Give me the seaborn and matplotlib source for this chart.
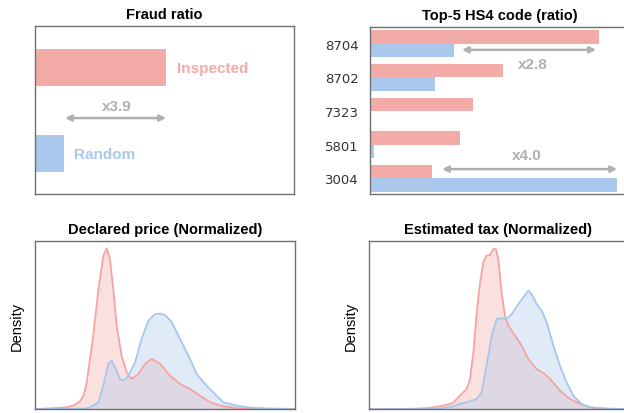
import pandas as pd
import matplotlib.pyplot as plt
import seaborn as sns

sns.set_theme(style="white")
plt.rcParams["font.family"] = ["Liberation Sans", "DejaVu Sans"]

RED = "#f3aba8"
BLUE = "#a9c8ec"
RED_LINE = "#f7a3a3"
BLUE_LINE = "#a6c6ee"
GRAY = "#b0b0b0"

# ---- data ----
groups = ["Inspected", "Random"]
fraud_ratio = [0.506, 0.112]

hs4_codes = ["8704", "8702", "7323", "5801", "3004"]
hs4_inspected = [0.884, 0.514, 0.398, 0.347, 0.239]
hs4_random = [0.324, 0.251, 0.004, 0.015, 0.954]

price_red_x = [0, 0.06, 0.12, 0.15, 0.173, 0.188, 0.199, 0.224, 0.244, 0.263, 0.276,
               0.288, 0.301, 0.314, 0.333, 0.353, 0.372, 0.397, 0.423, 0.449, 0.481,
               0.519, 0.558, 0.596, 0.635, 0.673, 0.724, 0.788, 0.89, 1.0]
price_red_y = [0, 0.004, 0.010, 0.022, 0.045, 0.085, 0.159, 0.436, 0.714, 0.913, 0.956,
               0.893, 0.714, 0.496, 0.317, 0.218, 0.179, 0.208, 0.268, 0.298, 0.270,
               0.198, 0.149, 0.119, 0.079, 0.040, 0.016, 0.004, 0.001, 0]
price_blue_x = [0, 0.19, 0.212, 0.244, 0.263, 0.282, 0.295, 0.308, 0.327, 0.340, 0.359,
                0.385, 0.410, 0.436, 0.462, 0.481, 0.5, 0.526, 0.558, 0.596, 0.622,
                0.660, 0.686, 0.724, 0.776, 0.827, 0.9, 1.0]
price_blue_y = [0, 0.002, 0.010, 0.040, 0.139, 0.268, 0.288, 0.248, 0.179, 0.169, 0.198,
                0.278, 0.417, 0.526, 0.565, 0.568, 0.56, 0.516, 0.417, 0.298, 0.208,
                0.139, 0.099, 0.040, 0.020, 0.008, 0.003, 0]

tax_red_x = [0, 0.15, 0.234, 0.286, 0.324, 0.351, 0.377, 0.390, 0.403, 0.416, 0.429,
             0.441, 0.454, 0.467, 0.480, 0.490, 0.499, 0.512, 0.525, 0.538, 0.564,
             0.590, 0.615, 0.647, 0.680, 0.705, 0.737, 0.776, 0.815, 0.853, 0.9, 1.0]
tax_red_y = [0, 0, 0.006, 0.020, 0.036, 0.079, 0.119, 0.179, 0.337, 0.575, 0.754,
             0.873, 0.913, 0.917, 0.952, 0.952, 0.893, 0.694, 0.555, 0.496, 0.436,
             0.377, 0.298, 0.238, 0.208, 0.169, 0.109, 0.060, 0.030, 0.010, 0.002, 0]
tax_blue_x = [0, 0.26, 0.324, 0.351, 0.390, 0.416, 0.435, 0.454, 0.474, 0.493, 0.512,
              0.532, 0.551, 0.577, 0.596, 0.615, 0.628, 0.647, 0.667, 0.686, 0.712,
              0.737, 0.763, 0.789, 0.821, 0.853, 0.93, 1.0]
tax_blue_y = [0, 0, 0.016, 0.030, 0.046, 0.060, 0.099, 0.258, 0.436, 0.536, 0.540,
              0.536, 0.565, 0.625, 0.665, 0.704, 0.684, 0.625, 0.585, 0.516, 0.377,
              0.258, 0.159, 0.079, 0.030, 0.010, 0.001, 0]

# ---- figure ----
fig = plt.figure(figsize=(6.24, 4.14), dpi=100)
W, H = 624, 414


def add_axes(left, top, right, bottom):
    return fig.add_axes([left / W, 1 - bottom / H, (right - left) / W, (bottom - top) / H])


ax1 = add_axes(35, 27, 294, 195)
ax2 = add_axes(370, 28, 629, 195)
ax3 = add_axes(35, 242, 295, 410)
ax4 = add_axes(369, 242, 628, 410)

for ax in [ax1, ax2, ax3, ax4]:
    for s in ax.spines.values():
        s.set_color("#707070")
        s.set_linewidth(1.0)
    ax.tick_params(length=0)

title_kw = dict(fontsize=10.5, fontweight="bold", color="black", pad=6)
arrow_kw = dict(arrowstyle="<|-|>", color=GRAY, lw=1.8, mutation_scale=9,
                shrinkA=0, shrinkB=0)
note_kw = dict(fontsize=11, fontweight="bold", color=GRAY, ha="center", va="center")

# Fraud ratio
fraud_df = pd.DataFrame({"group": groups, "ratio": fraud_ratio})
sns.barplot(data=fraud_df, x="ratio", y="group", hue="group", palette=[RED, BLUE],
            orient="h", width=0.43, saturation=1, linewidth=0, legend=False, ax=ax1)
ax1.set_xlim(0, 1)
ax1.set_ylim(1.47, -0.483)
ax1.set_xticks([])
ax1.set_yticks([])
ax1.set_xlabel("")
ax1.set_ylabel("")
ax1.set_title("Fraud ratio", **title_kw)
ax1.annotate("", xy=(fraud_ratio[1] + 0.004, 0.587), xytext=(fraud_ratio[0], 0.587),
             arrowprops=arrow_kw)
ax1.text(0.317, 0.45, "x3.9", **note_kw)
ax1.text(0.548, 0.0, "Inspected", fontsize=11, fontweight="bold", color=RED, va="center")
ax1.text(0.151, 1.0, "Random", fontsize=11, fontweight="bold", color=BLUE, va="center")

# Top-5 HS4
hs_df = pd.DataFrame({
    "code": hs4_codes * 2,
    "ratio": hs4_inspected + hs4_random,
    "group": ["Inspected"] * 5 + ["Random"] * 5,
})
sns.barplot(data=hs_df, x="ratio", y="code", hue="group", order=hs4_codes,
            palette=[RED, BLUE], orient="h", width=0.8, saturation=1, linewidth=0,
            legend=False, ax=ax2)
ax2.set_xlim(0, 1)
ax2.set_ylim(4.47, -0.5)
ax2.set_xticks([])
ax2.set_xlabel("")
ax2.set_ylabel("")
ax2.tick_params(axis="y", pad=8, labelsize=9.5, labelcolor="#333333")
for lbl in ax2.get_yticklabels():
    lbl.set_family("DejaVu Sans")
ax2.set_title("Top-5 HS4 code (ratio)", **title_kw)
ax2.annotate("", xy=(0.355, 0.18), xytext=(0.873, 0.18), arrowprops=arrow_kw)
ax2.text(0.63, 0.59, "x2.8", **note_kw)
ax2.annotate("", xy=(0.278, 3.73), xytext=(0.954, 3.73), arrowprops=arrow_kw)
ax2.text(0.606, 3.32, "x4.0", **note_kw)

# Density panels
panels = [
    (ax3, "Declared price (Normalized)", price_red_x, price_red_y, price_blue_x, price_blue_y),
    (ax4, "Estimated tax (Normalized)", tax_red_x, tax_red_y, tax_blue_x, tax_blue_y),
]
for ax, title, rx, ry, bx, by in panels:
    ax.fill_between(rx, ry, color=RED, alpha=0.35, linewidth=0)
    ax.fill_between(bx, by, color=BLUE, alpha=0.35, linewidth=0)
    sns.lineplot(x=rx, y=ry, color=RED_LINE, linewidth=1.3, ax=ax)
    sns.lineplot(x=bx, y=by, color=BLUE_LINE, linewidth=1.3, ax=ax)
    ax.set_xlim(0, 1)
    ax.set_ylim(0, 1.0)
    ax.set_xticks([])
    ax.set_yticks([])
    ax.set_ylabel("Density", fontsize=10.5, color="black", labelpad=8)
    ax.set_title(title, **title_kw)

fig.savefig("out.png", dpi=100)
